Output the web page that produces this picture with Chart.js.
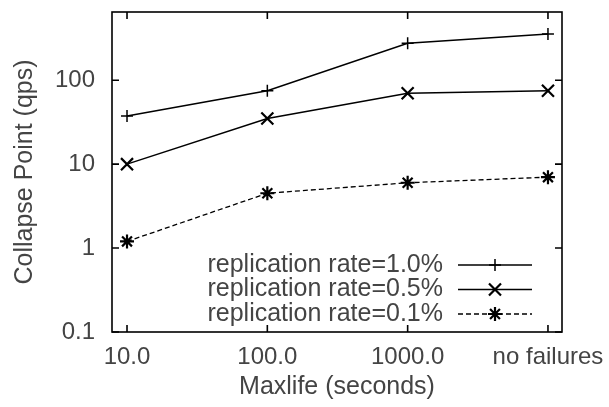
<!DOCTYPE html>
<html>
<head>
<meta charset="utf-8">
<script src="https://cdn.jsdelivr.net/npm/chart.js@4"></script>
<style>
  html, body { margin: 0; padding: 0; background: #fff; }
  #wrap { width: 609px; height: 407px; }
</style>
</head>
<body>
<div id="wrap"><canvas id="Collapse"></canvas></div>
<script>
// categories on the x axis
const maxlife = ['10.0', '100.0', '1000.0', 'no failures'];
// collapse point (qps) per replication rate
const rate10 = [37.5, 75, 275, 355];
const rate05 = [10, 35, 70, 75];
const rate01 = [1.2, 4.5, 6.0, 7.0];
const yTicks = [0.1, 1, 10, 100];
const seriesNames = ['replication rate=1.0%', 'replication rate=0.5%', 'replication rate=0.1%'];

const textColor = '#444';
const fontFam = '"Liberation Sans", Arial, sans-serif';

const toPoints = vals => vals.map((v, i) => ({x: i, y: v}));

// gnuplot style frame: box with inward ticks on all four sides
const framePlugin = {
    id: 'frame',
    afterDatasetsDraw(chart) {
        const {ctx, chartArea: a, scales} = chart;
        ctx.save();
        ctx.strokeStyle = '#000';
        ctx.lineWidth = 1.6;
        ctx.strokeRect(a.left, a.top, a.right - a.left, a.bottom - a.top);
        const tl = 7;
        ctx.beginPath();
        scales.x.ticks.forEach(t => {
            const px = scales.x.getPixelForValue(t.value);
            ctx.moveTo(px, a.bottom); ctx.lineTo(px, a.bottom - tl);
            ctx.moveTo(px, a.top); ctx.lineTo(px, a.top + tl);
        });
        scales.y.ticks.forEach(t => {
            const py = scales.y.getPixelForValue(t.value);
            ctx.moveTo(a.left, py); ctx.lineTo(a.left + tl, py);
            ctx.moveTo(a.right, py); ctx.lineTo(a.right - tl, py);
        });
        ctx.stroke();
        ctx.restore();
    }
};

// legend inside the plot, text on the left and line sample on the right
const keyPlugin = {
    id: 'key',
    afterDraw(chart) {
        const {ctx, chartArea: a} = chart;
        const rows = [a.bottom - 67, a.bottom - 42.5, a.bottom - 18];
        const textX = a.right - 119, x0 = a.right - 104, x1 = a.right - 30;
        ctx.save();
        chart.data.datasets.forEach((ds, i) => {
            const y = rows[i];
            ctx.fillStyle = textColor;
            ctx.font = '25px ' + fontFam;
            ctx.textAlign = 'right';
            ctx.textBaseline = 'middle';
            ctx.fillText(ds.label, textX, y);
            ctx.strokeStyle = '#000';
            ctx.lineWidth = ds.borderWidth;
            ctx.setLineDash(ds.borderDash || []);
            ctx.beginPath();
            ctx.moveTo(x0, y); ctx.lineTo(x1, y);
            ctx.stroke();
            ctx.setLineDash([]);
            ctx.lineWidth = ds.pointBorderWidth;
            Chart.helpers.drawPoint(ctx, {
                pointStyle: ds.pointStyle,
                radius: ds.pointRadius,
                rotation: 0,
                borderWidth: ds.pointBorderWidth
            }, (x0 + x1) / 2, y);
        });
        ctx.restore();
    }
};

const cctx = document.getElementById('Collapse').getContext('2d');
const Collapse = new Chart(cctx, {
    type: 'line',
    data: {
        datasets: [{
            label: seriesNames[0],
            data: toPoints(rate10),
            borderColor: '#000',
            borderWidth: 1.5,
            pointStyle: 'cross',
            pointRadius: 6,
            pointBorderWidth: 1.5,
            pointBorderColor: '#000'
        }, {
            label: seriesNames[1],
            data: toPoints(rate05),
            borderColor: '#000',
            borderWidth: 1.5,
            pointStyle: 'crossRot',
            pointRadius: 8.5,
            pointBorderWidth: 2.2,
            pointBorderColor: '#000'
        }, {
            label: seriesNames[2],
            data: toPoints(rate01),
            borderColor: '#000',
            borderWidth: 1.3,
            borderDash: [5, 3],
            pointStyle: 'star',
            pointRadius: 7,
            pointBorderWidth: 2.2,
            pointBorderColor: '#000'
        }]
    },
    options: {
        responsive: true,
        maintainAspectRatio: false,
        animation: false,
        layout: { padding: { top: 12, right: 47, left: 0, bottom: 0 } },
        plugins: {
            legend: { display: false },
            tooltip: { enabled: false }
        },
        scales: {
            x: {
                type: 'linear',
                min: -0.107,
                max: 3.1,
                afterBuildTicks: s => { s.ticks = maxlife.map((_, i) => ({value: i})); },
                afterFit: s => { s.height = 75; s.paddingLeft = 0; s.paddingRight = 0; },
                grid: { display: false, drawTicks: false },
                border: { display: false },
                ticks: {
                    color: textColor,
                    font: { family: fontFam, size: 24 },
                    padding: 11,
                    maxRotation: 0,
                    autoSkip: false,
                    callback: v => maxlife[v]
                },
                title: {
                    display: true,
                    text: 'Maxlife (seconds)',
                    color: textColor,
                    font: { family: fontFam, size: 25 },
                    padding: { top: 0, bottom: 5 }
                }
            },
            y: {
                type: 'logarithmic',
                min: 0.1,
                max: 650,
                afterBuildTicks: s => { s.ticks = yTicks.map(v => ({value: v})); },
                afterFit: s => { s.width = 112; s.paddingTop = 0; s.paddingBottom = 0; },
                grid: { display: false, drawTicks: false },
                border: { display: false },
                ticks: {
                    color: textColor,
                    font: { family: fontFam, size: 24 },
                    padding: 17,
                    callback: v => String(v)
                },
                title: {
                    display: true,
                    text: 'Collapse Point (qps)',
                    color: textColor,
                    font: { family: fontFam, size: 25 },
                    padding: { top: 10, bottom: 0 }
                }
            }
        }
    },
    plugins: [framePlugin, keyPlugin]
});
</script>
</body>
</html>
